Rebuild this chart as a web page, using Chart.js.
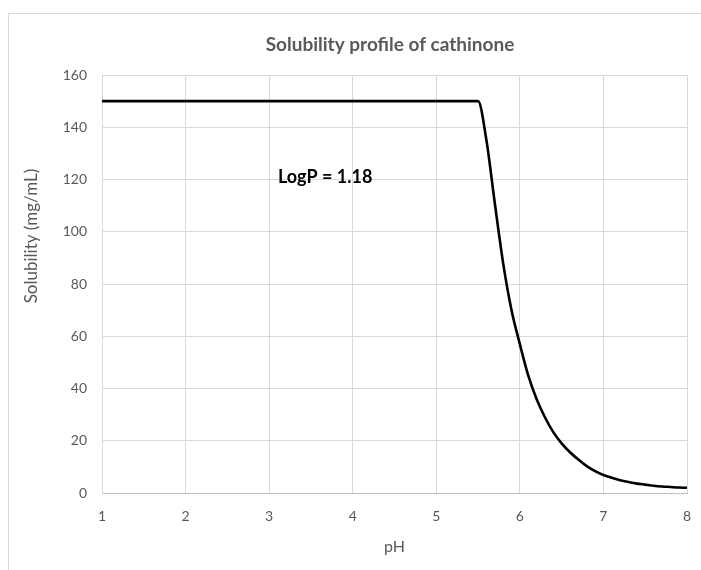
<!DOCTYPE html>
<html><head><meta charset="utf-8">
<script src="https://cdn.jsdelivr.net/npm/chart.js@4"></script>
<style>html,body{margin:0;padding:0;background:#fff}canvas{display:block}</style>
</head><body>
<canvas id="c" width="701" height="570"></canvas>
<script>
const chartTitle = 'Solubility profile of cathinone';
const xAxisTitle = 'pH';
const yAxisTitle = 'Solubility (mg/mL)';
const annotationText = 'LogP = 1.18';
const annotationPH = 3.67;
const annotationSolubility = 121;

const pH = [1, 5.5, 5.6, 5.7, 5.8, 5.9, 6.0, 6.1, 6.2, 6.3, 6.4, 6.5, 6.6, 6.7, 6.8, 6.9, 7.0, 7.1, 7.2, 7.3, 7.4, 7.5, 7.6, 7.7, 7.8, 7.9, 8.0];
const solubility = [150, 150, 135, 111, 88, 70, 57, 45, 36, 29, 23.3, 19, 15.6, 12.8, 10.3, 8.4, 6.9, 5.8, 4.9, 4.2, 3.6, 3.2, 2.8, 2.5, 2.3, 2.1, 2.0];

const xMin = 1, xMax = 8, xStep = 1;
const yMin = 0, yMax = 160, yStep = 20;

const FONT = 'Lato, "Open Sans", sans-serif';
const GREY = '#595959';

const decor = {
  id: 'decor',
  beforeDraw(chart) {
    const ctx = chart.ctx;
    ctx.save();
    ctx.fillStyle = '#fff';
    ctx.fillRect(0, 0, chart.width, chart.height);
    ctx.strokeStyle = '#d9d9d9';
    ctx.lineWidth = 1;
    ctx.strokeRect(8.5, 13.5, 800, 700);
    ctx.fillStyle = GREY;
    ctx.font = 'bold 19px ' + FONT;
    ctx.textAlign = 'center';
    ctx.textBaseline = 'middle';
    ctx.fillText(chartTitle, 390, 45);
    ctx.font = '17px ' + FONT;
    ctx.translate(32, 236);
    ctx.rotate(-Math.PI / 2);
    ctx.fillText(yAxisTitle, 0, 0);
    ctx.restore();
  },
  afterDatasetsDraw(chart) {
    const ctx = chart.ctx;
    const x = chart.scales.x.getPixelForValue(annotationPH);
    const y = chart.scales.y.getPixelForValue(annotationSolubility);
    ctx.save();
    ctx.fillStyle = '#000';
    ctx.font = 'bold 18px ' + FONT;
    ctx.textAlign = 'center';
    ctx.textBaseline = 'middle';
    ctx.fillText(annotationText, x, y);
    ctx.restore();
  }
};

new Chart(document.getElementById('c'), {
  type: 'line',
  data: {
    datasets: [{
      data: pH.map((v, i) => ({x: v, y: solubility[i]})),
      borderColor: '#000',
      borderWidth: 2.6,
      pointRadius: 0,
      fill: false,
      cubicInterpolationMode: 'monotone'
    }]
  },
  options: {
    responsive: false,
    animation: false,
    layout: {padding: {left: 8, right: 14, top: 75, bottom: 0}},
    plugins: {legend: {display: false}, title: {display: false}, tooltip: {enabled: false}},
    scales: {
      x: {
        type: 'linear', min: xMin, max: xMax,
        afterFit(s) { s.height = 77; s.paddingLeft = 0; s.paddingRight = 0; },
        ticks: {stepSize: xStep, color: GREY, font: {family: FONT, size: 14}, padding: 15},
        grid: {color: '#d9d9d9', drawTicks: false},
        border: {color: '#bfbfbf', width: 1},
        title: {display: true, text: xAxisTitle, color: GREY, font: {family: FONT, size: 16}, padding: {top: 0, bottom: 14}}
      },
      y: {
        min: yMin, max: yMax,
        afterFit(s) { s.width = 94; },
        ticks: {stepSize: yStep, color: GREY, font: {family: FONT, size: 14}, padding: 15},
        grid: {color: '#d9d9d9', drawTicks: false},
        border: {color: '#d9d9d9', width: 1},
        title: {display: false}
      }
    }
  },
  plugins: [decor]
});
</script>
</body></html>
